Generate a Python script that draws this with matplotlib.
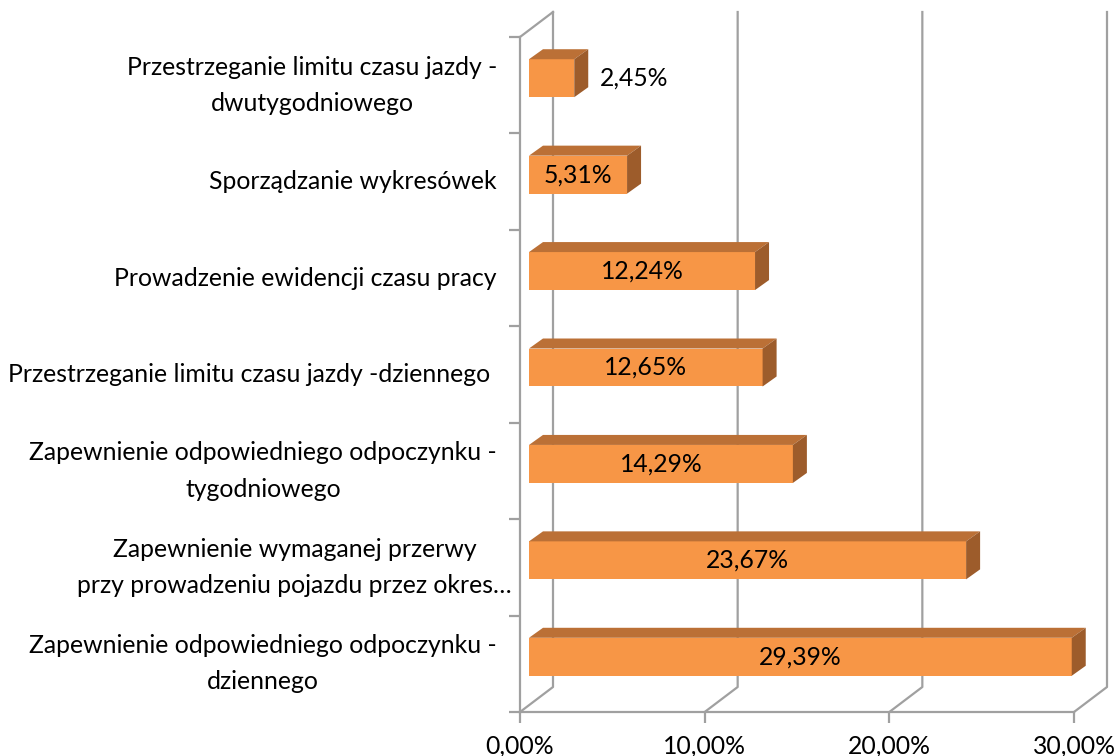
import matplotlib.pyplot as plt
from matplotlib.patches import Polygon

plt.rcParams['font.family'] = ['Lato', 'DejaVu Sans']

# kategorie od góry do dołu
kategorie = [
    "Przestrzeganie limitu czasu jazdy -\ndwutygodniowego",
    "Sporządzanie wykresówek",
    "Prowadzenie ewidencji czasu pracy",
    "Przestrzeganie limitu czasu jazdy -dziennego ",
    "Zapewnienie odpowiedniego odpoczynku -\ntygodniowego",
    "Zapewnienie wymaganej przerwy\nprzy prowadzeniu pojazdu przez okres…",
    "Zapewnienie odpowiedniego odpoczynku -\ndziennego",
]
wartosci = [2.45, 5.31, 12.24, 12.65, 14.29, 23.67, 29.39]
etykiety = ["2,45%", "5,31%", "12,24%", "12,65%", "14,29%", "23,67%", "29,39%"]
ticki_x = [0, 10, 20, 30]
ticki_x_txt = ["0,00%", "10,00%", "20,00%", "30,00%"]

W, H = 1117, 756
fs = 17.8
fig = plt.figure(figsize=(W / 100, H / 100), dpi=100)
ax = fig.add_axes([520 / W, 44 / H, 554 / W, 675 / H])
n = len(wartosci)
ax.set_xlim(0, 30)
ax.set_ylim(0, n)

# przeliczenie pikseli na jednostki danych (efekt 3D)
sx = 554 / 30
sy = 675 / n


def off(px, py):
    return px / sx, py / sy


szary = '#a0a0a0'
sciana = off(33, 25)
przod = off(9, 7)
tyl = off(23, 17)

# ściany i linie siatki
for v in ticki_x:
    ax.plot([v, v + sciana[0], v + sciana[0]], [0, sciana[1], n + sciana[1]],
            color=szary, lw=1.6, clip_on=False, zorder=1)
ax.plot([0, sciana[0]], [n, n + sciana[1]], color=szary, lw=1.6, clip_on=False, zorder=1)

for s in ['top', 'right']:
    ax.spines[s].set_visible(False)
for s in ['left', 'bottom']:
    ax.spines[s].set_color(szary)
    ax.spines[s].set_linewidth(1.6)

ax.set_xticks(ticki_x)
ax.set_xticklabels(ticki_x_txt, fontsize=fs)
ax.set_yticks(range(n + 1))
ax.set_yticklabels([])
ax.tick_params(axis='both', length=8, width=1.6, color=szary)
ax.tick_params(axis='x', pad=8)

h = 0.394
for k in range(n):
    v = wartosci[k]
    yc = n - k - 0.5
    y0, y1 = yc - h / 2, yc + h / 2
    fx, fy = przod
    bx, by = tyl
    ax.add_patch(Polygon([(fx, y0 + fy), (v + fx, y0 + fy), (v + fx, y1 + fy), (fx, y1 + fy)],
                         closed=True, fc='#f79646', ec='none', zorder=3, clip_on=False))
    ax.add_patch(Polygon([(fx, y1 + fy), (v + fx, y1 + fy), (v + bx, y1 + by), (bx, y1 + by)],
                         closed=True, fc='#bb7036', ec='none', zorder=3, clip_on=False))
    ax.add_patch(Polygon([(v + fx, y0 + fy), (v + bx, y0 + by), (v + bx, y1 + by), (v + fx, y1 + fy)],
                         closed=True, fc='#9d5c2b', ec='none', zorder=3, clip_on=False))
    if v < 4:
        ax.text(v + fx + off(26, 0)[0], yc + fy, etykiety[k], ha='left', va='center',
                fontsize=fs, zorder=4)
    else:
        ax.text(v / 2 + fx, yc + fy, etykiety[k], ha='center', va='center',
                fontsize=fs, zorder=4)
    pad = 8 if kategorie[k].endswith('…') else 23
    ax.text(-pad / sx, yc, kategorie[k], ha='right', va='center', multialignment='center',
            fontsize=fs, clip_on=False, linespacing=1.7)

fig.savefig('out.png', dpi=100)
